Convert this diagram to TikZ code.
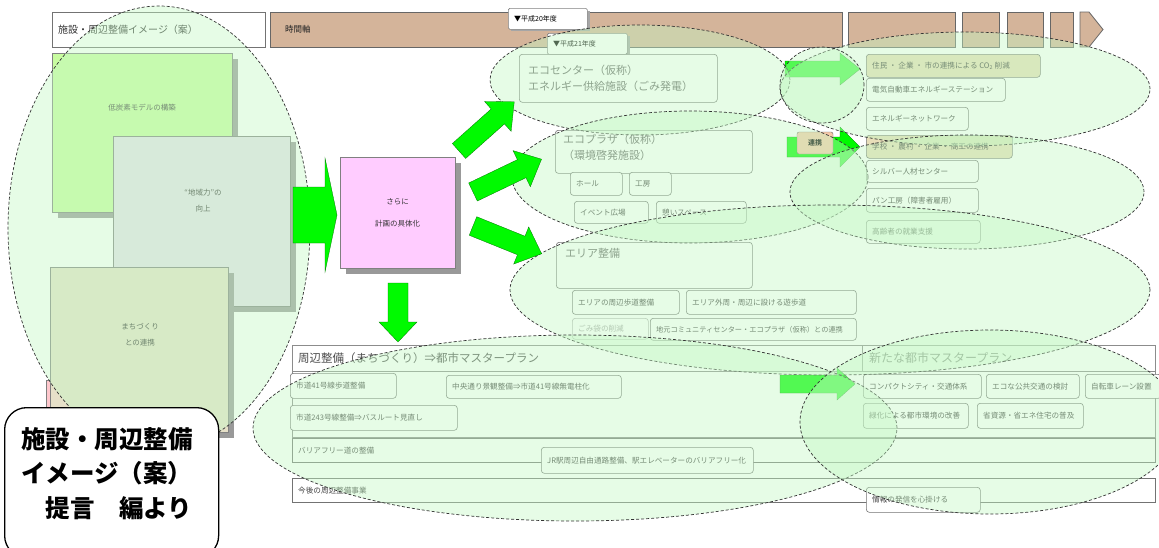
\documentclass[tikz,border=0pt]{standalone}
\usepackage{fontspec}
\setmainfont{Noto Sans CJK JP}
\definecolor{tlc}{RGB}{212,180,154}
\definecolor{lgreen}{RGB}{200,252,160}
\definecolor{lav}{RGB}{230,224,234}
\definecolor{beig}{RGB}{230,224,200}
\definecolor{pinkb}{RGB}{255,204,255}
\definecolor{tanb}{RGB}{232,222,185}
\definecolor{orng}{RGB}{245,200,168}
\definecolor{ellf}{RGB}{196,248,196}
\definecolor{gar}{RGB}{0,250,0}
\definecolor{pinksm}{RGB}{255,200,205}
\tikzset{
 rb/.style={draw=black!55, line width=0.6pt, rounded corners=3pt, fill=white, inner sep=0},
 rbtan/.style={rb, fill=tanb},
 rbfaint/.style={rb, draw=black!30},
 sq/.style={draw=black!55, line width=0.6pt, fill=white, inner sep=0},
 tlseg/.style={draw=black!60, line width=0.8pt, fill=tlc, inner sep=0},
 lbl/.style={draw=black!50, line width=0.6pt, fill=white, rounded corners=1.5pt, inner sep=0},
 ell/.style={draw=black!80, densely dashed, line width=0.7pt, fill=ellf, fill opacity=0.42},
 st/.style={font=\fontsize{7.6}{9}\selectfont, text=black!75, inner sep=0},
 stf/.style={st, text=black!35},
 mt/.style={font=\fontsize{11}{16}\selectfont, text=black!60, inner sep=0, align=left},
 lt/.style={font=\fontsize{7.5}{16}\selectfont, text=black!80, inner sep=0, align=center},
 co/.style={font=\fontsize{24.5}{30}\selectfont\bfseries, text=black, inner sep=0},
 garrow/.style={fill=gar, draw=green!45!black, line width=0.3pt},
}
% name, style, x, y, w, h, text style, text
\newcommand{\tbox}[8]{%
 \node[#2, anchor=north west, minimum width=#5pt, minimum height=#6pt] (#1) at (#3,#4) {};
 \node[#7, anchor=west] (#1t) at ([xshift=6pt]#1.west) {#8};}
% tail x, tail y, angle, length, shaft half, head half, head length
\newcommand{\barrow}[7]{%
 \filldraw[garrow, shift={(#1,#2)}, rotate=#3] (0,-#5) -- ({#4-#7},-#5) -- ({#4-#7},-#6) -- (#4,0) -- ({#4-#7},#6) -- ({#4-#7},#5) -- (0,#5) -- cycle;}
\begin{document}
\begin{tikzpicture}[x=1pt,y=-1pt]
\useasboundingbox (0,0) rectangle (1159,547);
\fill[white] (0,0) rectangle (1159,547);

% ---------- header ----------
\tbox{title}{sq}{52}{12}{213}{35}{mt,font=\fontsize{10}{12}\selectfont,text=black!80}{施設・周辺整備イメージ（案）}
\node[tlseg, anchor=north west, minimum width=572pt, minimum height=35pt] (tl1) at (270,12) {};
\node[st, font=\fontsize{8.5}{10}\selectfont, text=black!85, anchor=west] (tlt) at (285,29) {時間軸};
\node[tlseg, anchor=north west, minimum width=107pt, minimum height=35pt] (tl2) at (848,12) {};
\node[tlseg, anchor=north west, minimum width=37pt, minimum height=35pt] (tl3) at (962,12) {};
\node[tlseg, anchor=north west, minimum width=36pt, minimum height=35pt] (tl4) at (1007,12) {};
\node[tlseg, anchor=north west, minimum width=23pt, minimum height=35pt] (tl5) at (1050,12) {};
\filldraw[draw=black!60, line width=0.8pt, fill=tlc] (1080,12) -- (1089,12) -- (1103,29.5) -- (1089,47) -- (1080,47) -- cycle;
\fill[black!35] (511,11) rectangle (590,31);
\tbox{y20}{lbl}{508}{8}{79}{21}{st,font=\fontsize{7}{8}\selectfont,text=black}{▼平成20年度}
\fill[black!35] (550,36) rectangle (630,56);
\tbox{y21}{lbl}{547}{33}{80}{21}{st,font=\fontsize{7}{8}\selectfont,text=black}{▼平成21年度}

% ---------- left stacked boxes ----------
\fill[black!40] (58,59) rectangle (238,218);
\node[draw=black!50, fill=lgreen, anchor=north west, minimum width=180pt, minimum height=159pt, inner sep=0] (bgreen) at (52,53) {};
\node[st, font=\fontsize{7.5}{9}\selectfont] (bgreent) at (142,108) {低炭素モデルの構築};
\fill[black!40] (119,142) rectangle (296,312);
\node[draw=black!50, fill=lav, anchor=north west, minimum width=177pt, minimum height=170pt, inner sep=0] (blav) at (113,136) {};
\node[lt] (blavt) at (203,201) {“地域力”の\\向上};
\node[draw=black!50, fill=pinksm, anchor=north west, minimum width=170pt, minimum height=55pt, inner sep=0] (bpk) at (46,380) {};
\fill[black!40] (56,273) rectangle (234,438);
\node[draw=black!50, fill=beig, anchor=north west, minimum width=178pt, minimum height=165pt, inner sep=0] (bbeige) at (50,267) {};
\node[lt] (bbeiget) at (140,335) {まちづくり\\との連携};

% ---------- middle boxes ----------
\node[rb, anchor=north west, minimum width=198pt, minimum height=48pt] (eco) at (519,54) {};
\node[mt, anchor=west] (ecot) at ([xshift=9pt]eco.west) {エコセンター（仮称）\\エネルギー供給施設（ごみ発電）};
\node[rb, anchor=north west, minimum width=197pt, minimum height=43pt] (plaza) at (555,130) {};
\node[mt, anchor=north west] (plazat) at (563,134) {エコプラザ（仮称）\\（環境啓発施設）};
\tbox{hall}{rb}{570}{172}{52}{23}{st}{ホール}
\tbox{kobo}{rb}{629}{172}{42}{23}{st}{工房}
\tbox{event}{rb}{574}{201}{74}{22}{st}{イベント広場}
\tbox{ikoi}{rb}{656}{201}{90}{22}{st}{憩いスペース}
\node[rb, anchor=north west, minimum width=196pt, minimum height=46pt] (area) at (556,242) {};
\node[mt, anchor=north west] (areat) at (565,248) {エリア整備};
\tbox{a1}{rb}{572}{290}{107}{24}{st}{エリアの周辺歩道整備}
\tbox{a2}{rb}{686}{290}{170}{24}{st}{エリア外周・周辺に設ける遊歩道}
\tbox{a3}{rbfaint}{572}{318}{76}{21}{stf}{ごみ袋の削減}
\tbox{a4}{rb}{650}{318}{206}{22}{st,font=\fontsize{7.2}{9}\selectfont}{地元コミュニティセンター・エコプラザ（仮称）との連携}

% ---------- right column ----------
\tbox{r1}{rbtan}{866}{54}{174}{23}{st}{住民 ・ 企業 ・ 市の連携による CO\textsubscript{2} 削減}
\tbox{r2}{rb}{866}{78}{139}{23}{st}{電気自動車エネルギーステーション}
\tbox{r3}{rb}{866}{107}{102}{23}{st}{エネルギーネットワーク}
\tbox{r4}{rbtan}{866}{135}{146}{23}{st}{学校 ・ 農村 ・ 企業 ・ 商工の連携}
\tbox{r5}{rb}{866}{160}{112}{22}{st}{シルバー人材センター}
\tbox{r6}{rb}{866}{188}{112}{24}{st}{パン工房（障害者雇用）}
\tbox{r7}{rb}{866}{220}{114}{23}{st}{高齢者の就業支援}

% ---------- bottom band ----------
\node[sq, draw=black!45, anchor=north west, minimum width=863pt, minimum height=26pt] (band) at (292,345) {};
\node[mt, font=\fontsize{11.5}{14}\selectfont, anchor=west, text=black!70] (bandt) at (298,358) {周辺整備（まちづくり）⇒都市マスタープラン};
\node[sq, draw=black!45, anchor=north west, minimum width=293pt, minimum height=26pt] (nhead) at (862,345) {};
\node[mt, font=\fontsize{12}{14}\selectfont, anchor=west] (nheadt) at (869,358) {新たな都市マスタープラン};
\node[sq, draw=black!45, anchor=north west, minimum width=863pt, minimum height=66pt] (bandb) at (292,371) {};
\tbox{row1}{sq}{292}{438}{863}{24}{st}{バリアフリー道の整備}
\tbox{row2}{sq}{292}{478}{863}{24}{st}{今後の周辺整備事業}
\tbox{b1}{rb}{290}{373}{106}{25}{st}{市道41号線歩道整備}
\tbox{b2}{rb}{446}{375}{175}{23}{st}{中央通り景観整備⇒市道41号線無電柱化}
\tbox{b3}{rb}{290}{405}{167}{25}{st}{市道243号線整備⇒バスルート見直し}
\tbox{b4}{rb}{541}{447}{212}{26}{st}{JR駅周辺自由通路整備、駅エレベーターのバリアフリー化}
\tbox{n1}{rb}{863}{374}{118}{24}{st}{コンパクトシティ・交通体系}
\tbox{n2}{rb}{986}{374}{93}{24}{st}{エコな公共交通の検討}
\tbox{n3}{rb}{1085}{374}{76}{24}{st}{自転車レーン設置}
\tbox{n4}{rb}{863}{403}{105}{25}{st}{緑化による都市環境の改善}
\tbox{n5}{rb}{977}{403}{106}{25}{st}{省資源・省エネ住宅の普及}
\tbox{n6}{rb}{866}{487}{114}{25}{st}{情報の発信を心掛ける}

% ---------- arrows under ellipses ----------
\barrow{785}{69}{0}{75}{8}{16}{20}
\barrow{787}{147}{0}{73}{10}{20}{20}
\node[draw=black!60, fill=orng, rounded corners=2pt, minimum width=36pt, minimum height=22pt, inner sep=0, font=\fontsize{7}{8}\selectfont\bfseries] (renkei) at (815,143) {連携};
\barrow{780}{384}{0}{75}{9}{16}{18}

% ---------- ellipses ----------
\path[ell] (159,228) ellipse [x radius=151pt, y radius=222pt];
\path[ell] (640,80) ellipse [x radius=150pt, y radius=55pt];
\path[ell] (965,89) ellipse [x radius=185pt, y radius=57pt];
\path[ell] (822,85) ellipse [x radius=42pt, y radius=38pt];
\path[ell] (690,177) ellipse [x radius=178pt, y radius=66pt];
\path[ell] (967,192) ellipse [x radius=177pt, y radius=57pt];
\path[ell] (830,290) ellipse [x radius=320pt, y radius=85pt];
\path[ell] (575,428) ellipse [x radius=322pt, y radius=93pt];
\path[ell] (990,422) ellipse [x radius=190pt, y radius=92pt];

% ---------- top arrows and central box ----------
\barrow{293}{215}{0}{44}{28}{57}{12}
\fill[black!40] (346,163) rectangle (461,274);
\node[draw=black!50, fill=pinkb, anchor=north west, minimum width=115pt, minimum height=111pt, inner sep=0] (plan) at (340,157) {};
\node[lt, font=\fontsize{7.5}{22}\selectfont] (plant) at (plan.center) {さらに\\計画の具体化};
\barrow{459}{151}{41.7}{74}{10}{20}{22}
\barrow{473}{192}{25.6}{76}{10}{20}{22}
\barrow{473}{226}{-22}{74}{10}{20}{22}
\barrow{398}{283}{-90}{59}{10}{19}{20}

% ---------- callout ----------
\node[draw=black, line width=1.3pt, fill=white, rounded corners=22pt, anchor=north west, minimum width=214pt, minimum height=150pt, inner sep=0] (callout) at (4,407) {};
\node[co, anchor=base west] (c1) at (21,448) {施設・周辺整備};
\node[co, anchor=base west] (c2) at (21,482.5) {イメージ（案）};
\node[co, anchor=base west] (c3) at (21,517) {　提言　編より};
\end{tikzpicture}
\end{document}
